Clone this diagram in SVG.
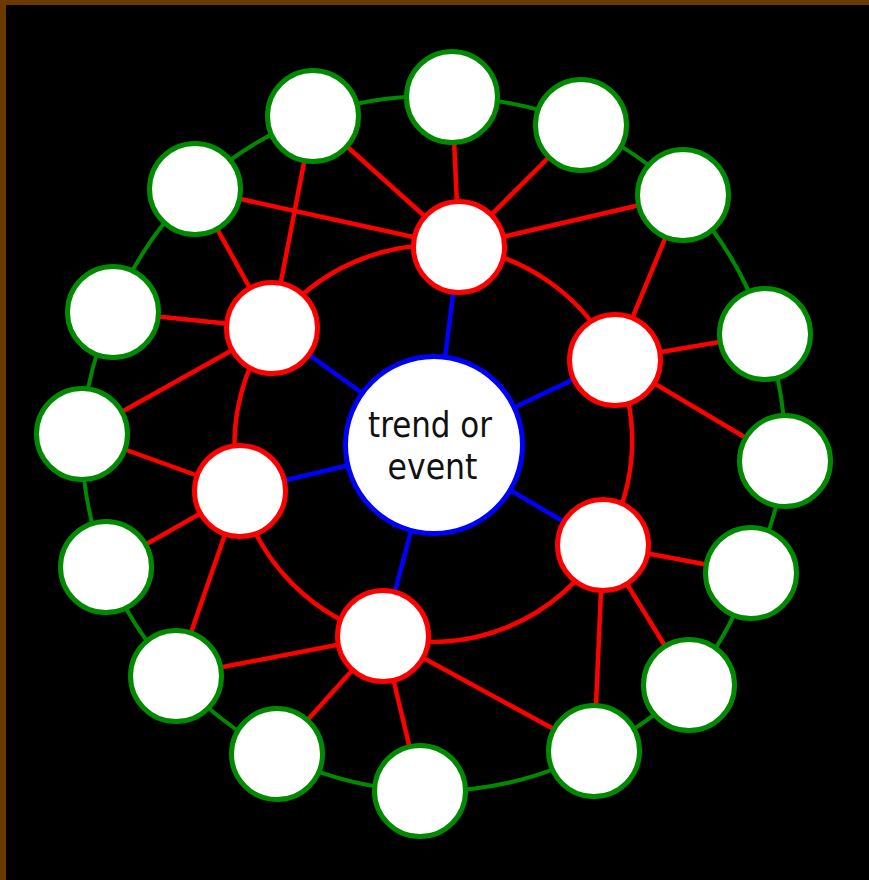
<svg xmlns="http://www.w3.org/2000/svg" width="869" height="880" viewBox="0 0 869 880">
<style>
.g{fill:#fff;stroke:#008a00;stroke-width:5}
.r{fill:#fff;stroke:#ff0000;stroke-width:5}
.c{fill:#fff;stroke:#0000ff;stroke-width:5}
.eg{fill:none;stroke:#008a00;stroke-width:4}
.er{fill:none;stroke:#ff0000;stroke-width:4.5}
.eb{fill:none;stroke:#0000ff;stroke-width:4.5}
.t{font-family:"DejaVu Sans","Liberation Sans",sans-serif;font-size:35px;fill:#111;text-anchor:middle}
</style>
<rect x="0" y="0" width="869" height="880" fill="#000"/>
<rect x="0" y="0" width="869" height="5" fill="#6b3a00"/>
<rect x="0" y="0" width="6" height="880" fill="#6b3a00"/>
<g id="connectors">
<!-- outer green ring -->
<path class="eg" d="M452,97 A349,349 0 0 1 581,125"/>
<path class="eg" d="M581,125 A349,349 0 0 1 683,195"/>
<path class="eg" d="M683,195 A349,349 0 0 1 765,334"/>
<path class="eg" d="M765,334 A349,349 0 0 1 785,461"/>
<path class="eg" d="M785,461 A349,349 0 0 1 751,573"/>
<path class="eg" d="M751,573 A349,349 0 0 1 689,685"/>
<path class="eg" d="M689,685 A349,349 0 0 1 594,751"/>
<path class="eg" d="M594,751 A349,349 0 0 1 420,791"/>
<path class="eg" d="M420,791 A349,349 0 0 1 277,754"/>
<path class="eg" d="M277,754 A349,349 0 0 1 176,676"/>
<path class="eg" d="M176,676 A349,349 0 0 1 106,567"/>
<path class="eg" d="M106,567 A349,349 0 0 1 82,434"/>
<path class="eg" d="M82,434 A349,349 0 0 1 113,312"/>
<path class="eg" d="M113,312 A349,349 0 0 1 195,189"/>
<path class="eg" d="M195,189 A349,349 0 0 1 313,116"/>
<path class="eg" d="M313,116 A349,349 0 0 1 452,97"/>
<!-- inner red ring -->
<path class="er" d="M459,247 A200,200 0 0 1 615,360"/>
<path class="er" d="M615,360 A200,200 0 0 1 603,545"/>
<path class="er" d="M603,545 A200,200 0 0 1 383,636"/>
<path class="er" d="M383,636 A200,200 0 0 1 240,491"/>
<path class="er" d="M240,491 A200,200 0 0 1 272,328"/>
<path class="er" d="M272,328 A200,200 0 0 1 459,247"/>
<!-- red spokes -->
<line class="er" x1="459" y1="247" x2="452" y2="97"/>
<line class="er" x1="459" y1="247" x2="581" y2="125"/>
<line class="er" x1="459" y1="247" x2="683" y2="195"/>
<line class="er" x1="459" y1="247" x2="313" y2="116"/>
<line class="er" x1="459" y1="247" x2="195" y2="189"/>
<line class="er" x1="272" y1="328" x2="313" y2="116"/>
<line class="er" x1="272" y1="328" x2="195" y2="189"/>
<line class="er" x1="272" y1="328" x2="113" y2="312"/>
<line class="er" x1="272" y1="328" x2="82" y2="434"/>
<line class="er" x1="240" y1="491" x2="82" y2="434"/>
<line class="er" x1="240" y1="491" x2="106" y2="567"/>
<line class="er" x1="240" y1="491" x2="176" y2="676"/>
<line class="er" x1="383" y1="636" x2="176" y2="676"/>
<line class="er" x1="383" y1="636" x2="277" y2="754"/>
<line class="er" x1="383" y1="636" x2="420" y2="791"/>
<line class="er" x1="383" y1="636" x2="594" y2="751"/>
<line class="er" x1="603" y1="545" x2="594" y2="751"/>
<line class="er" x1="603" y1="545" x2="689" y2="685"/>
<line class="er" x1="603" y1="545" x2="751" y2="573"/>
<line class="er" x1="615" y1="360" x2="683" y2="195"/>
<line class="er" x1="615" y1="360" x2="765" y2="334"/>
<line class="er" x1="615" y1="360" x2="785" y2="461"/>
<!-- blue spokes -->
<line class="eb" x1="434" y1="445" x2="459" y2="247"/>
<line class="eb" x1="434" y1="445" x2="272" y2="328"/>
<line class="eb" x1="434" y1="445" x2="615" y2="360"/>
<line class="eb" x1="434" y1="445" x2="240" y2="491"/>
<line class="eb" x1="434" y1="445" x2="603" y2="545"/>
<line class="eb" x1="434" y1="445" x2="383" y2="636"/>
</g>
<g id="center"><circle class="c" cx="434" cy="445" r="88.5"/>
<text class="t" x="430" y="437" textLength="124" lengthAdjust="spacingAndGlyphs">trend or</text>
<text class="t" x="432.5" y="479" textLength="90" lengthAdjust="spacingAndGlyphs">event</text></g>
<g id="R1"><circle class="r" cx="459" cy="247" r="45.5"/></g>
<g id="R2"><circle class="r" cx="272" cy="328" r="45.5"/></g>
<g id="R3"><circle class="r" cx="615" cy="360" r="45.5"/></g>
<g id="R4"><circle class="r" cx="240" cy="491" r="45.5"/></g>
<g id="R5"><circle class="r" cx="603" cy="545" r="45.5"/></g>
<g id="R6"><circle class="r" cx="383" cy="636" r="45.5"/></g>
<g id="G1"><circle class="g" cx="452" cy="97" r="45.5"/></g>
<g id="G2"><circle class="g" cx="313" cy="116" r="45.5"/></g>
<g id="G3"><circle class="g" cx="581" cy="125" r="45.5"/></g>
<g id="G4"><circle class="g" cx="195" cy="189" r="45.5"/></g>
<g id="G5"><circle class="g" cx="683" cy="195" r="45.5"/></g>
<g id="G6"><circle class="g" cx="113" cy="312" r="45.5"/></g>
<g id="G7"><circle class="g" cx="765" cy="334" r="45.5"/></g>
<g id="G8"><circle class="g" cx="82" cy="434" r="45.5"/></g>
<g id="G9"><circle class="g" cx="785" cy="461" r="45.5"/></g>
<g id="G10"><circle class="g" cx="106" cy="567" r="45.5"/></g>
<g id="G11"><circle class="g" cx="751" cy="573" r="45.5"/></g>
<g id="G12"><circle class="g" cx="176" cy="676" r="45.5"/></g>
<g id="G13"><circle class="g" cx="689" cy="685" r="45.5"/></g>
<g id="G14"><circle class="g" cx="277" cy="754" r="45.5"/></g>
<g id="G15"><circle class="g" cx="420" cy="791" r="45.5"/></g>
<g id="G16"><circle class="g" cx="594" cy="751" r="45.5"/></g>
</svg>
